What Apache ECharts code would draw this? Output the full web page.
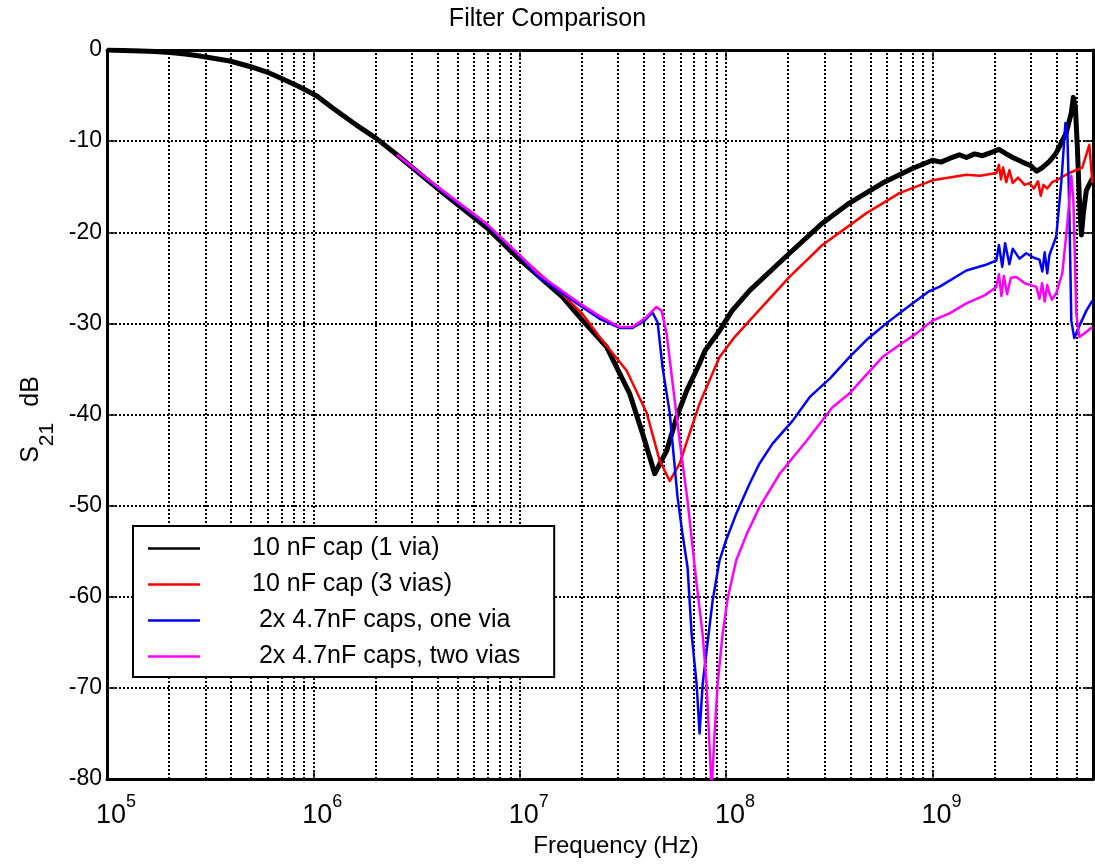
<!DOCTYPE html>
<html>
<head>
<meta charset="utf-8">
<script src="https://cdn.jsdelivr.net/npm/echarts@6/dist/echarts.min.js"></script>
<style>html,body{margin:0;padding:0;background:#fff}#c{width:1095px;height:866px}</style>
</head>
<body>
<div id="c"></div>
<script>
const chartTitle = 'Filter Comparison';
const xAxisTitle = 'Frequency (Hz)';
const seriesNames = ['10 nF cap (1 via)', '10 nF cap (3 vias)', ' 2x 4.7nF caps, one via', ' 2x 4.7nF caps, two vias'];
const seriesColors = ['#000000', '#ff0000', '#0000ff', '#ff00ff'];
const yTicks = [-80, -70, -60, -50, -40, -30, -20, -10, 0];

const freqBlack = [1e5, 1.2e5, 1.45e5, 1.71e5, 2.02e5, 2.39e5, 2.82e5, 3.33e5, 3.94e5, 4.92e5, 5.96e5, 7.28e5, 8.6e5, 1.04e6, 1.24e6, 1.59e6, 2.01e6, 2.54e6, 4.1e6, 6.93e6, 9.89e6, 1.61e7, 2.02e7, 2.64e7, 3.41e7, 3.94e7, 4.51e7, 5.15e7, 5.76e7, 6.44e7, 7.44e7, 7.9e7, 9.3e7, 1.07e8, 1.3e8, 2.03e8, 2.93e8, 3.96e8, 5.73e8, 8.0e8, 1.0e9, 1.1e9, 1.21e9, 1.35e9, 1.46e9, 1.6e9, 1.75e9, 1.95e9, 2.1e9, 2.28e9, 2.45e9, 2.73e9, 3.0e9, 3.2e9, 3.41e9, 3.7e9, 3.98e9, 4.45e9, 4.71e9, 4.82e9, 4.93e9, 5.04e9, 5.15e9, 5.27e9, 5.39e9, 5.57e9, 5.96e9];
const dbBlack   = [0, -0.05, -0.1, -0.16, -0.27, -0.44, -0.66, -0.93, -1.21, -1.81, -2.42, -3.3, -4.07, -5.05, -6.37, -8.13, -9.67, -11.5, -15.4, -19.5, -22.9, -27.1, -29.7, -32.6, -37.7, -42.1, -46.5, -44.0, -40.3, -37.4, -34.4, -33.0, -30.8, -28.6, -26.4, -22.3, -19.0, -16.8, -14.6, -13.0, -12.1, -12.3, -11.9, -11.5, -11.8, -11.4, -11.6, -11.2, -10.9, -11.4, -11.8, -12.3, -12.7, -13.3, -12.9, -12.2, -11.3, -9.1, -6.9, -5.2, -6.3, -10.7, -16.2, -20.3, -17.9, -15.4, -14.1];

const freqRed = [2.54e6, 4.1e6, 6.93e6, 9.89e6, 1.61e7, 2.02e7, 2.44e7, 3.3e7, 4.12e7, 4.76e7, 5.33e7, 5.96e7, 6.65e7, 7.44e7, 9.3e7, 1.1e8, 1.3e8, 2.03e8, 2.93e8, 4.79e8, 6.92e8, 1.0e9, 1.21e9, 1.46e9, 1.7e9, 2.04e9, 2.1e9, 2.15e9, 2.2e9, 2.28e9, 2.36e9, 2.45e9, 2.6e9, 2.8e9, 2.95e9, 3.1e9, 3.25e9, 3.35e9, 3.45e9, 3.6e9, 3.8e9, 3.98e9, 4.6e9, 5.32e9, 5.76e9, 5.96e9];
const dbRed   = [-11.5, -15.2, -19.1, -22.5, -26.8, -29.0, -31.5, -35.2, -39.8, -45.0, -47.3, -45.4, -42.1, -38.8, -33.7, -31.5, -29.7, -24.9, -21.4, -17.9, -15.7, -14.3, -14.0, -13.7, -13.8, -13.5, -12.6, -14.2, -12.9, -14.5, -13.2, -14.6, -14.0, -14.8, -14.6, -15.2, -14.4, -16.0, -14.8, -15.2, -14.5, -14.3, -13.5, -12.9, -10.4, -14.6];

const freqBlue = [2.54e6, 4.1e6, 6.93e6, 9.89e6, 1.25e7, 1.95e7, 2.44e7, 3.05e7, 3.52e7, 4.03e7, 4.4e7, 4.66e7, 4.92e7, 5.33e7, 5.82e7, 6.15e7, 6.51e7, 6.81e7, 7.2e7, 7.44e7, 7.7e7, 8.05e7, 8.61e7, 9.3e7, 1.0e8, 1.12e8, 1.3e8, 1.45e8, 1.68e8, 2.1e8, 2.54e8, 3.2e8, 3.96e8, 4.8e8, 5.98e8, 7.0e8, 8.37e8, 9.6e8, 1.08e9, 1.46e9, 1.8e9, 2.04e9, 2.1e9, 2.18e9, 2.25e9, 2.36e9, 2.45e9, 2.64e9, 2.85e9, 3.1e9, 3.3e9, 3.41e9, 3.5e9, 3.6e9, 3.69e9, 3.98e9, 4.22e9, 4.41e9, 4.51e9, 4.61e9, 4.71e9, 4.87e9, 5.15e9, 5.57e9, 5.96e9];
const dbBlue   = [-11.5, -15.3, -19.2, -22.5, -25.0, -28.0, -29.5, -30.5, -30.5, -29.7, -28.8, -29.9, -34.8, -39.8, -49.1, -53.1, -56.8, -64.1, -69.6, -75.0, -69.6, -65.9, -60.4, -56.0, -53.8, -50.9, -47.6, -45.4, -43.2, -40.7, -38.1, -36.0, -33.7, -31.8, -30.0, -28.8, -27.5, -26.5, -26.0, -24.2, -23.6, -23.1, -21.4, -23.8, -21.2, -23.5, -21.8, -22.9, -22.3, -22.8, -23.0, -24.3, -22.2, -24.5, -22.5, -20.5, -14.3, -8.0, -9.3, -17.9, -29.7, -31.6, -30.3, -28.6, -27.5];

const freqMagenta = [2.54e6, 4.1e6, 6.93e6, 9.89e6, 1.25e7, 1.95e7, 2.44e7, 3.05e7, 3.52e7, 4.12e7, 4.6e7, 4.87e7, 5.15e7, 5.51e7, 5.96e7, 6.51e7, 7.2e7, 7.7e7, 8.05e7, 8.51e7, 8.8e7, 9.1e7, 9.62e7, 1.02e8, 1.12e8, 1.26e8, 1.45e8, 1.82e8, 2.45e8, 3.28e8, 3.96e8, 4.8e8, 5.73e8, 7.0e8, 8.37e8, 1.0e9, 1.21e9, 1.46e9, 1.8e9, 2.04e9, 2.1e9, 2.16e9, 2.22e9, 2.3e9, 2.4e9, 2.55e9, 2.8e9, 3.19e9, 3.3e9, 3.4e9, 3.5e9, 3.6e9, 3.69e9, 3.8e9, 3.98e9, 4.26e9, 4.51e9, 4.71e9, 4.82e9, 4.98e9, 5.15e9, 5.45e9, 5.96e9];
const dbMagenta   = [-11.5, -15.2, -19.1, -22.4, -24.7, -27.8, -29.2, -30.4, -30.4, -29.3, -28.2, -28.6, -31.1, -36.6, -42.9, -49.5, -58.6, -64.1, -69.6, -81.3, -75.0, -69.6, -64.1, -60.1, -56.0, -53.1, -50.2, -46.5, -42.9, -39.2, -37.7, -35.6, -33.7, -32.3, -31.1, -29.7, -28.9, -27.8, -26.9, -26.0, -24.6, -27.0, -24.8, -26.8, -25.0, -24.9, -25.6, -26.0, -27.3, -25.6, -27.6, -25.8, -26.7, -27.4, -26.7, -24.5, -19.0, -13.8, -16.5, -28.9, -31.5, -31.1, -30.4];

const xMin = 1e5, xMax = 6e9;
const allFreqs = [freqBlack, freqRed, freqBlue, freqMagenta];
const allDb = [dbBlack, dbRed, dbBlue, dbMagenta];
const lineWidths = [5, 2.5, 2.5, 2.5];

// minor (non-decade) grid positions: 2..9 x 10^n
const minorGridFreqs = [];
for (let e = 5; e <= 9; e++) {
  for (let k = 2; k <= 9; k++) {
    const f = k * Math.pow(10, e);
    if (f < xMax) minorGridFreqs.push(f);
  }
}

const FONT = 'Liberation Sans, Arial, Helvetica, sans-serif';
const dotted = { color: '#000', width: 2, type: [2, 2] };

const chart = echarts.init(document.getElementById('c'), null, { renderer: 'canvas' });

const series = seriesNames.map((name, i) => ({
  name: name,
  type: 'line',
  xAxisIndex: 0,
  yAxisIndex: 0,
  data: allFreqs[i].map((f, j) => [f, allDb[i][j]]),
  symbol: 'none',
  z: 3,
  clip: true,
  lineStyle: { color: seriesColors[i], width: lineWidths[i], join: 'round' },
  itemStyle: { color: seriesColors[i] },
  emphasis: { disabled: true },
  silent: true
}));

series.unshift({
  name: 'minorGrid',
  type: 'line',
  data: [],
  z: 0,
  silent: true,
  symbol: 'none',
  markLine: {
    z: 0,
    silent: true,
    symbol: ['none', 'none'],
    label: { show: false },
    emphasis: { disabled: true },
    animation: false,
    lineStyle: dotted,
    data: minorGridFreqs.map(f => ({ xAxis: f }))
  }
});

const option = {
  animation: false,
  backgroundColor: '#fff',
  title: {
    text: chartTitle,
    left: 'center',
    top: 7,
    padding: [0, 0, 0, 137],
    textStyle: { fontFamily: FONT, fontSize: 25, fontWeight: 'normal', color: '#000' }
  },
  grid: { left: 107, right: 2, top: 50, bottom: 87, containLabel: false },
  legend: {
    z: 10,
    data: seriesNames.map(n => ({ name: n, icon: 'rect' })),
    orient: 'vertical',
    left: 133,
    top: 526,
    padding: [10, 34, 8, 15],
    itemWidth: 52,
    itemHeight: 2.5,
    itemGap: 11,
    borderColor: '#000',
    borderWidth: 2,
    backgroundColor: '#fff',
    borderRadius: 0,
    selectedMode: false,
    textStyle: { fontFamily: FONT, fontSize: 25, color: '#000', lineHeight: 24, padding: [0, 0, 0, 47] }
  },
  xAxis: [
    {
      type: 'log', logBase: 10, min: xMin, max: xMax,
      position: 'bottom',
      name: xAxisTitle,
      nameLocation: 'middle',
      nameGap: 53,
      nameTextStyle: { fontFamily: FONT, fontSize: 24, color: '#000', padding: [0, 0, 0, 32] },
      axisLine: { show: true, onZero: false, lineStyle: { color: '#000', width: 3 } },
      axisTick: { show: true, inside: true, length: 9, lineStyle: { color: '#000', width: 1.5 } },
      splitLine: { show: true, lineStyle: dotted },
      minorTick: { show: false },
      axisLabel: {
        margin: 14,
        showMaxLabel: false,
        color: '#000',
        formatter: function (v) {
          const lg = Math.log10(v);
          const e = Math.round(lg);
          if (Math.abs(lg - e) > 1e-6) return '';
          return '{b|10}{s|' + e + '}';
        },
        rich: {
          b: { fontFamily: FONT, fontSize: 27, color: '#000', verticalAlign: 'top', lineHeight: 27, padding: [9, 0, 0, 18] },
          s: { fontFamily: FONT, fontSize: 18, color: '#000', verticalAlign: 'top', lineHeight: 18 }
        }
      }
    },
    {
      type: 'log', logBase: 10, min: xMin, max: xMax,
      position: 'top',
      axisLine: { show: true, onZero: false, lineStyle: { color: '#000', width: 3 } },
      axisTick: { show: true, inside: true, length: 9, lineStyle: { color: '#000', width: 1.5 } },
      axisLabel: { show: false },
      splitLine: { show: false }
    }
  ],
  yAxis: [
    {
      type: 'value', min: -80, max: 0, interval: 10,
      position: 'left',
      name: '{s|S}{sub|21}{d|dB}',
      nameLocation: 'middle',
      nameRotate: 90,
      nameGap: 52,
      nameTextStyle: {
        padding: [0, 10, 0, 0],
        rich: {
          s: { fontFamily: FONT, fontSize: 25, color: '#000', verticalAlign: 'top', lineHeight: 26 },
          sub: { fontFamily: FONT, fontSize: 21, color: '#000', verticalAlign: 'top', lineHeight: 22, padding: [18, 0, 0, 0] },
          d: { fontFamily: FONT, fontSize: 25, color: '#000', verticalAlign: 'top', lineHeight: 26, padding: [0, 0, 0, 16] }
        }
      },
      axisLine: { show: true, onZero: false, lineStyle: { color: '#000', width: 3 } },
      axisTick: { show: true, inside: true, length: 9, lineStyle: { color: '#000', width: 1.5 } },
      splitLine: { show: true, lineStyle: dotted },
      axisLabel: {
        margin: 5,
        color: '#000',
        fontFamily: FONT,
        fontSize: 23,
        formatter: function (v) { return yTicks.indexOf(v) >= 0 ? String(v) : ''; }
      }
    },
    {
      type: 'value', min: -80, max: 0, interval: 10,
      position: 'right',
      axisLine: { show: true, onZero: false, lineStyle: { color: '#000', width: 3 } },
      axisTick: { show: true, inside: true, length: 9, lineStyle: { color: '#000', width: 1.5 } },
      axisLabel: { show: false },
      splitLine: { show: false }
    }
  ],
  series: series
};

chart.setOption(option);
</script>
</body>
</html>
